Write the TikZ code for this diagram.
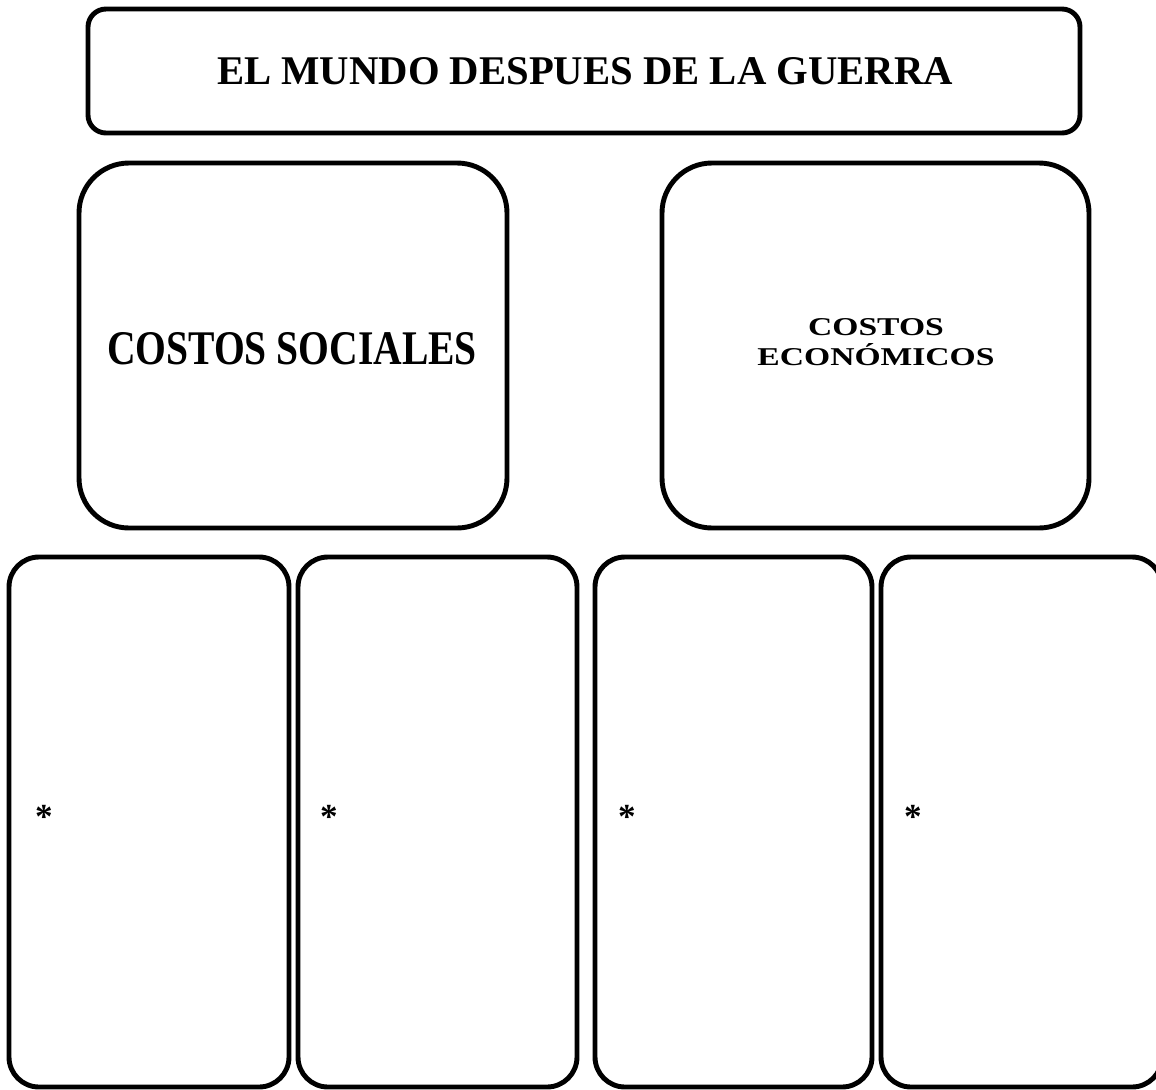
\documentclass[tikz,border=0pt]{standalone}
\usepackage{fontspec}
\setmainfont{Liberation Serif}
\begin{document}
\begin{tikzpicture}[x=0.02cm,y=-0.02cm,
  box/.style={draw=black, line width=2.8pt, fill=white},
  lbl/.style={font=\bfseries, align=center, inner sep=0pt},
  star/.style={font=\bfseries\fontsize{20}{20}\selectfont, inner sep=0pt}]
\useasboundingbox[fill=white] (0,0) rectangle (1156,1089);
% boxes
\draw[box, rounded corners=0.36cm] (88,9) rectangle (1080,133);
\node[lbl] (title) at (585,71.5) {\resizebox{14.72cm}{0.54cm}{EL MUNDO DESPUES DE LA GUERRA}};
\draw[box, rounded corners=1cm] (79,163) rectangle (507,528);
\node[lbl] (soc) at (292,349) {\resizebox{7.4cm}{0.64cm}{COSTOS SOCIALES}};
\draw[box, rounded corners=1cm] (662,163) rectangle (1089,528);
\node[lbl, font=\bfseries\fontsize{14.6}{17}\selectfont] (eco) at (876,342) {\scalebox{1.31}[1]{COSTOS}\\\scalebox{1.31}[1]{ECONÓMICOS}};
\draw[box, rounded corners=0.6cm] (9,557) rectangle (289,1087);
\draw[box, rounded corners=0.6cm] (298,557) rectangle (577,1087);
\draw[box, rounded corners=0.6cm] (595,557) rectangle (872,1087);
\draw[box, rounded corners=0.6cm] (881,557) rectangle (1162,1087);
\node[star] (s1) at (44,817) {*};
\node[star] (s2) at (329,817) {*};
\node[star] (s3) at (627,817) {*};
\node[star] (s4) at (913,817) {*};
\end{tikzpicture}
\end{document}
